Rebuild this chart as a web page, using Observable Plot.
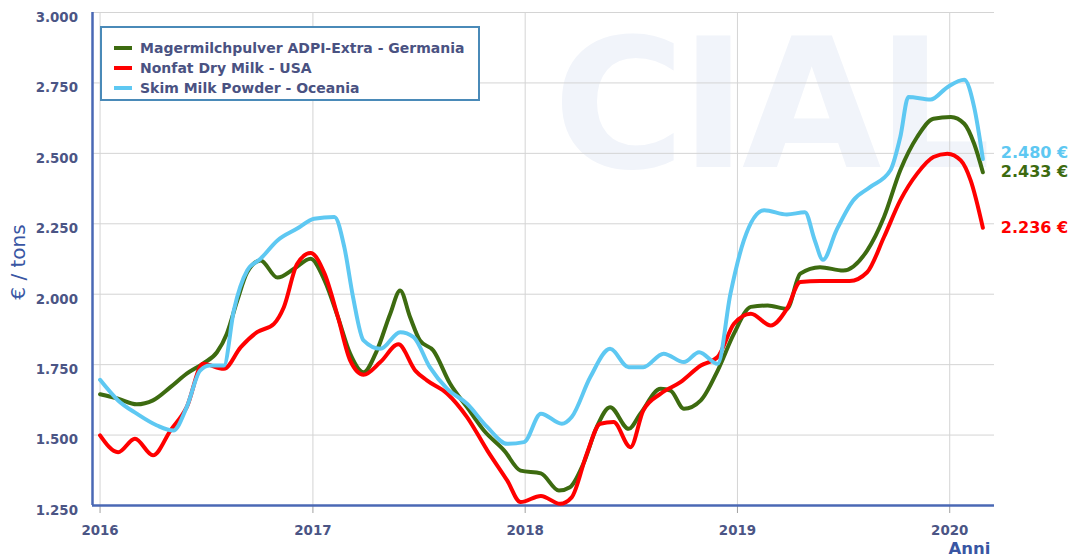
<!DOCTYPE html>
<html><head><meta charset="utf-8">
<script src="https://cdn.jsdelivr.net/npm/d3@7"></script>
<script src="https://cdn.jsdelivr.net/npm/@observablehq/plot@0.6"></script>
<style>
body{margin:0;background:#fff;}
#wrap{position:relative;width:1077px;height:556px;font-family:"DejaVu Sans",Verdana,sans-serif;overflow:hidden;}
#wm{position:absolute;left:553px;top:0px;font-size:180px;font-weight:bold;color:#f1f4fa;letter-spacing:-5px;line-height:normal;z-index:0;white-space:nowrap;}
#chart{position:absolute;left:0;top:0;z-index:1;}
#legend{position:absolute;left:100px;top:26px;width:376px;height:71px;border:2px solid #4a8ab8;background:#fff;z-index:2;}
.li{position:absolute;left:12px;height:20px;display:flex;align-items:center;font-size:14px;font-weight:bold;color:#4a5282;white-space:nowrap;}
.sw{display:inline-block;width:18px;height:4px;margin-right:8px;}
</style>
</head><body>
<div id="wrap">
  <div id="wm">CIAL</div>
  <div id="chart"></div>
  <div id="legend"></div>
</div>
<script>
// ---- data (values in € / ton) ----
const germania = [
["2016-01-01",1645],["2016-02-01",1629],["2016-03-04",1609],["2016-04-01",1623],["2016-05-01",1670],
["2016-05-29",1718],["2016-06-26",1754],["2016-07-20",1794],["2016-08-06",1860],["2016-08-24",1978],
["2016-09-10",2078],["2016-10-03",2120],["2016-11-01",2059],["2016-11-30",2091],["2016-12-28",2126],
["2017-01-21",2049],["2017-02-13",1919],["2017-03-06",1789],["2017-03-29",1723],["2017-04-21",1800],
["2017-05-14",1931],["2017-05-31",2013],["2017-06-17",1919],["2017-07-04",1836],["2017-07-27",1800],
["2017-08-25",1682],["2017-09-23",1599],["2017-10-22",1516],["2017-11-26",1445],["2017-12-24",1374],
["2018-01-28",1364],["2018-02-28",1303],["2018-03-19",1315],["2018-04-11",1398],["2018-05-04",1528],
["2018-05-27",1599],["2018-06-28",1522],["2018-07-18",1576],["2018-08-22",1664],["2018-09-08",1658],
["2018-10-01",1593],["2018-10-30",1623],["2018-11-28",1729],["2018-12-26",1860],["2019-01-24",1955],
["2019-02-22",1960],["2019-03-27",1948],["2019-04-19",2073],["2019-05-23",2096],["2019-07-02",2084],
["2019-08-12",2155],["2019-09-10",2274],["2019-10-08",2440],["2019-11-06",2558],["2019-12-04",2623],
["2020-01-03",2629],["2020-01-26",2605],["2020-02-12",2534],["2020-02-27",2433]
];
const usa = [
["2016-01-01",1499],["2016-02-01",1439],["2016-03-01",1487],["2016-04-01",1428],["2016-05-01",1516],
["2016-05-29",1599],["2016-06-26",1753],["2016-08-01",1735],["2016-08-30",1812],["2016-09-27",1865],
["2016-10-26",1895],["2016-11-12",1954],["2016-12-05",2108],["2016-12-28",2146],["2017-01-21",2073],
["2017-02-13",1919],["2017-03-06",1765],["2017-03-29",1714],["2017-04-27",1759],["2017-05-28",1822],
["2017-06-26",1729],["2017-07-16",1694],["2017-08-20",1647],["2017-09-23",1564],["2017-10-28",1445],
["2017-12-01",1339],["2017-12-24",1262],["2018-01-28",1284],["2018-03-02",1256],["2018-03-22",1279],
["2018-04-17",1434],["2018-05-10",1540],["2018-06-02",1546],["2018-07-01",1457],["2018-07-23",1587],
["2018-08-22",1647],["2018-09-25",1688],["2018-10-30",1747],["2018-11-28",1777],["2018-12-26",1895],
["2019-01-24",1931],["2019-02-27",1889],["2019-03-27",1948],["2019-04-19",2043],["2019-05-23",2047],
["2019-07-13",2047],["2019-08-12",2078],["2019-09-10",2203],["2019-10-08",2333],["2019-11-06",2428],
["2019-12-04",2487],["2019-12-28",2499],["2020-01-20",2475],["2020-02-06",2404],["2020-02-27",2236]
];
const oceania = [
["2016-01-01",1696],["2016-02-01",1623],["2016-03-04",1576],["2016-04-08",1534],["2016-05-06",1516],
["2016-05-29",1599],["2016-06-21",1729],["2016-07-08",1747],["2016-08-01",1747],["2016-08-18",1942],
["2016-09-10",2084],["2016-10-03",2126],["2016-11-01",2191],["2016-12-05",2233],["2017-01-03",2268],
["2017-02-07",2274],["2017-02-24",2167],["2017-03-11",1990],["2017-03-29",1836],["2017-04-27",1806],
["2017-05-31",1865],["2017-06-23",1848],["2017-07-21",1741],["2017-08-20",1664],["2017-09-23",1611],
["2017-10-28",1528],["2017-12-01",1469],["2017-12-30",1475],["2018-01-28",1576],["2018-03-05",1540],
["2018-03-22",1564],["2018-04-23",1706],["2018-05-27",1806],["2018-06-28",1741],["2018-07-23",1741],
["2018-08-27",1789],["2018-10-01",1759],["2018-10-27",1794],["2018-11-28",1753],["2018-12-20",2002],
["2019-01-12",2191],["2019-02-16",2298],["2019-03-27",2283],["2019-04-27",2291],["2019-05-14",2191],
["2019-05-28",2122],["2019-06-20",2226],["2019-07-19",2333],["2019-08-17",2380],["2019-09-21",2440],
["2019-10-08",2558],["2019-10-22",2700],["2019-11-29",2691],["2019-12-28",2735],["2020-01-26",2761],
["2020-02-12",2664],["2020-02-27",2480]
];
const seriesNames = ["Magermilchpulver ADPI-Extra - Germania","Nonfat Dry Milk - USA","Skim Milk Powder - Oceania"];
const seriesColors = ["#3d6b10","#ff0000","#5ec8f2"];
const yTicks = [1250,1500,1750,2000,2250,2500,2750,3000];
const xTickDates = ["2016-01-01","2017-01-01","2018-01-01","2019-01-01","2020-01-01"];
const xDomainDates = ["2015-12-19","2020-03-18"];
const xTitle = "Anni";
const yTitle = "€ / tons";

// ---- build ----
const parse = d3.utcParse("%Y-%m-%d");
const fmt = d3.formatLocale({decimal:",", thousands:".", grouping:[3], currency:["","€"]}).format(",d");
const seriesData = [germania, usa, oceania];
const rows = seriesData.flatMap((arr, i) => arr.map(([d, v]) => ({series: seriesNames[i], date: parse(d), value: v})));
const lastRows = seriesData.map((arr, i) => ({series: seriesNames[i], date: parse(arr[arr.length-1][0]), value: arr[arr.length-1][1]}));
const xTicks = xTickDates.map(parse);
const xDomain = xDomainDates.map(parse);
const labelDy = [0, 0, -6];
const axisBlue = "#4a68b5";
const tickTextColor = "#4b5585";
const titleColor = "#3956a3";

const plot = Plot.plot({
  width: 1077, height: 556,
  marginLeft: 92, marginRight: 83, marginTop: 12, marginBottom: 51,
  style: {background: "transparent", fontFamily: "'DejaVu Sans', Verdana, sans-serif", overflow: "visible"},
  x: {type: "utc", domain: xDomain},
  y: {domain: [1250, 3000]},
  color: {domain: seriesNames, range: seriesColors},
  marks: [
    Plot.gridX({ticks: xTicks, stroke: "#d4d4d4", strokeOpacity: 1}),
    Plot.gridY({ticks: yTicks, stroke: "#d4d4d4", strokeOpacity: 1}),
    Plot.axisX({ticks: xTicks, tickFormat: "%Y", tickSize: 8, tickPadding: 12, label: null,
      stroke: "#a0a0a0", fill: tickTextColor, fontSize: 13.4, fontWeight: "bold"}),
    Plot.text([xTitle], {frameAnchor: "bottom-right", text: d => d, dx: -4, dy: 48, lineAnchor: "bottom",
      textAnchor: "end", fill: titleColor, fontSize: 16.5, fontWeight: "bold"}),
    Plot.axisY({ticks: yTicks, tickFormat: fmt, tickSize: 0, tickPadding: 14.5, dy: 5, label: null,
      fill: tickTextColor, fontSize: 13.4, fontWeight: "bold"}),
    Plot.text([yTitle], {frameAnchor: "left", text: d => d, rotate: -90, dx: -74, dy: 3,
      textAnchor: "middle", lineAnchor: "middle", fill: titleColor, fontSize: 20}),
    Plot.ruleX([xDomain[0]], {stroke: axisBlue, strokeWidth: 2.5}),
    Plot.ruleY([1250], {stroke: axisBlue, strokeWidth: 2.5}),
    Plot.line(rows, {x: "date", y: "value", z: "series", stroke: "series", strokeWidth: 4, curve: "monotone-x"}),
    ...lastRows.map((r, i) => Plot.text([r], {x: "date", y: "value", text: d => fmt(d.value) + " €",
      fill: seriesColors[i], dx: 18, dy: labelDy[i], textAnchor: "start", fontSize: 16, fontWeight: "bold"}))
  ]
});
document.getElementById("chart").appendChild(plot);

// legend
const lg = document.getElementById("legend");
seriesNames.forEach((n, i) => {
  const d = document.createElement("div");
  d.className = "li";
  d.style.top = (10 + i * 20) + "px";
  d.innerHTML = `<span class="sw" style="background:${seriesColors[i]}"></span>${n}`;
  lg.appendChild(d);
});
</script>
</body></html>
